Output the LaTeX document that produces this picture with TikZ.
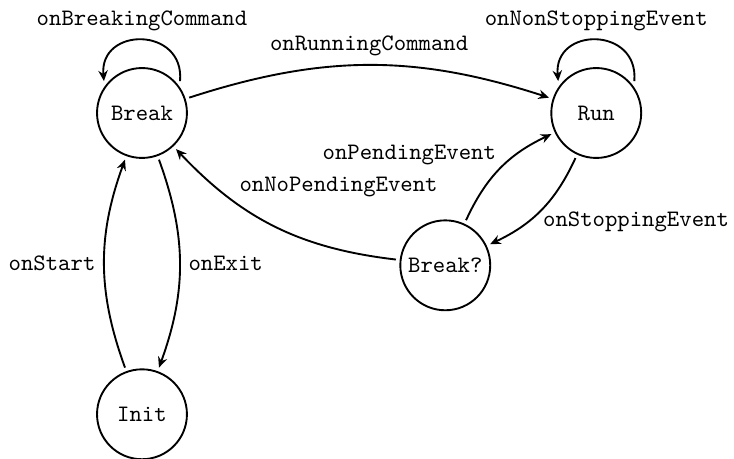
\documentclass[tikz,border=0pt]{standalone}
\usepackage{tikz}
\usetikzlibrary{arrows.meta}

\begin{document}
\begin{tikzpicture}
		[%%%%%%%%%%%%%%%%%%%%%%%%%%%%%%
		font=\ttfamily,
		state/.style={circle,draw=black,thick,minimum size=1.34cm,inner sep=0pt,outer sep=2pt},
		trans/.style={-{Stealth[length=4.5pt,width=4pt,inset=1.5pt]},thick},
		]%%%%%%%%%%%%%%%%%%%%%%%%%%%%%%
		\useasboundingbox (-2.116,-5.156) rectangle (8.823,1.684);
		
		\node[state] (brk) at (0,0) {Break};
		\node[state] (run) at (6.77,0) {Run};
		\node[state] (brkq) at (4.52,-2.27) {Break?};
		\node[state] (init) at (0,-4.49) {Init};
		
		\draw[trans] (brk.40) to[out=85,in=95,looseness=1.85] node[above] {onBreakingCommand} (brk.140);
		\draw[trans] (run.40) to[out=85,in=95,looseness=1.85] node[above] {onNonStoppingEvent} (run.140);
		\draw[trans] (brk) to[bend left=18] node[above] {onRunningCommand} (run);
		\draw[trans] (run) to[bend left=20] node[below right=-3pt] {onStoppingEvent} (brkq);
		\draw[trans] (brkq) to[bend left=20] node[above left=-2pt] {onPendingEvent} (run);
		\draw[trans] (brkq) to[bend left=20] node[pos=.72,above right,yshift=-3pt] {onNoPendingEvent} (brk);
		\draw[trans] (brk) to[bend left=20] node[right] {onExit} (init);
		\draw[trans] (init) to[bend left=20] node[left] {onStart} (brk);
		\end{tikzpicture}
\end{document}
